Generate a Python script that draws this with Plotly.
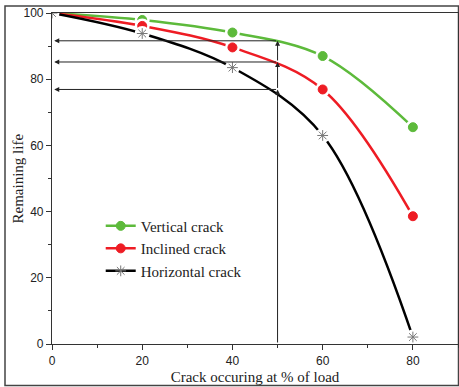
import plotly.graph_objects as go

load_pct = [0, 20, 40, 60, 80]
vertical = [100, 97.9, 94.1, 87.0, 65.5]
inclined = [100, 96.1, 89.6, 76.9, 38.6]
horizontal = [100, 93.8, 83.5, 63.0, 2.1]
ref_load = 50
ref_levels = [91.6, 85.2, 76.9]
x_ticks = [0, 20, 40, 60, 80]
y_ticks = [0, 20, 40, 60, 80, 100]

series = [
    ("Vertical crack", vertical, "#5dba3b", "circle", "#5dba3b", 9),
    ("Inclined crack", inclined, "#ee1c24", "circle", "#ee1c24", 9),
    ("Horizontal crack", horizontal, "black", "asterisk-open", "#777", 9),
]

fig = go.Figure()
for name, vals, col, sym, mcol, msize in series:
    fig.add_trace(go.Scatter(x=load_pct, y=vals, mode="lines+markers", name=name,
                             line=dict(color=col, width=2.5, shape="spline", smoothing=1),
                             marker=dict(symbol=sym, size=msize, color=mcol,
                                         line=dict(color=mcol, width=1))))
    fig.add_trace(go.Scatter(x=load_pct, y=vals, mode="markers", showlegend=False,
                             hoverinfo="skip",
                             marker=dict(symbol="circle", size=15, color="white")))
    fig.add_trace(go.Scatter(x=load_pct, y=vals, mode="markers", showlegend=False,
                             marker=dict(symbol=sym, size=msize, color=mcol,
                                         line=dict(color=mcol, width=1))))

# reference lines / arrows
prev = 0
for lv in sorted(ref_levels):
    fig.add_annotation(x=ref_load, y=lv, ax=ref_load, ay=prev, xref="x", yref="y",
                       axref="x", ayref="y", showarrow=True, arrowhead=2, arrowsize=1,
                       arrowwidth=1, arrowcolor="#222", text="")
    prev = lv
for lv in ref_levels:
    fig.add_annotation(x=0.5, y=lv, ax=ref_load, ay=lv, xref="x", yref="y",
                       axref="x", ayref="y", showarrow=True, arrowhead=2, arrowsize=1,
                       arrowwidth=1, arrowcolor="#222", text="")

# y axis title
fig.add_annotation(text="Remaining life", textangle=-90, showarrow=False,
                   xref="paper", yref="paper", x=(17 - 52) / 406, y=0.5,
                   xanchor="center", yanchor="middle",
                   font=dict(family="Liberation Serif, Times New Roman", size=15, color="#222"))

# outer frame
fig.add_shape(type="rect", xref="paper", yref="paper",
              x0=(5 - 52) / 406, x1=(458.5 - 52) / 406,
              y0=(344 - 385.5) / 331, y1=(344 - 6) / 331,
              line=dict(color="#444", width=1.5), layer="below")

axis_common = dict(showgrid=False, zeroline=False, showline=True, linecolor="#333",
                   linewidth=1.2, mirror=True, ticks="outside", ticklen=5, tickwidth=1,
                   tickcolor="#333",
                   tickfont=dict(family="Liberation Sans, Arial", size=12, color="#222"),
                   minor=dict(ticks="outside", ticklen=3, tickcolor="#333", dtick=10))

fig.update_xaxes(range=[0, 90], tickvals=x_ticks, **axis_common,
                 title=dict(text="Crack occuring at % of load", standoff=4,
                            font=dict(family="Liberation Serif, Times New Roman", size=15,
                                      color="#222")))
fig.update_yaxes(range=[0, 100], tickvals=y_ticks, **axis_common)

fig.update_layout(
    width=459, height=387,
    margin=dict(l=52, r=1, t=13, b=43),
    paper_bgcolor="white", plot_bgcolor="white",
    showlegend=True,
    legend=dict(x=0.12, y=0.406, xanchor="left", yanchor="top",
                bgcolor="rgba(0,0,0,0)", borderwidth=0,
                font=dict(family="Liberation Serif, Times New Roman", size=15, color="#222"),
                itemwidth=30, tracegroupgap=0),
)

fig.write_html("out.html", config={"displayModeBar": False},
               post_script="document.body.style.margin='0px';")
